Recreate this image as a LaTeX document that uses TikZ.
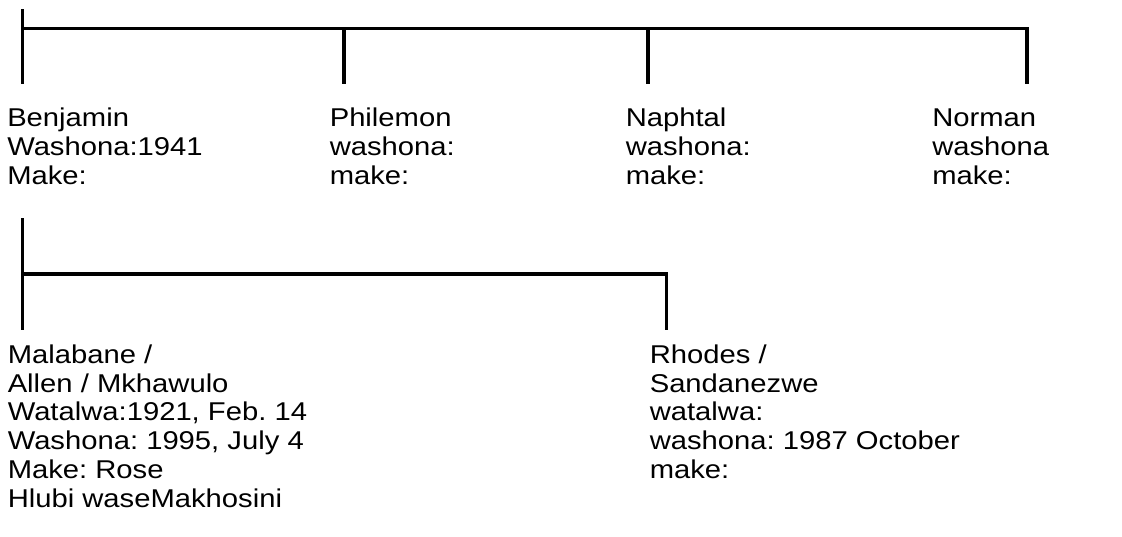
\documentclass[tikz,border=0pt]{standalone}
\usepackage{fontspec}
\setmainfont{Liberation Sans}[FakeStretch=1.135]
\frenchspacing
\usetikzlibrary{positioning}
\tikzset{
  person/.style={anchor=base west, inner sep=0pt, align=left,
    font=\fontsize{19.3pt}{21.6pt}\selectfont},
  branch/.style={draw=black, line width=2.4pt},
}

\begin{document}
\begin{tikzpicture}[x=0.75pt,y=-0.75pt]
\useasboundingbox (0,0) rectangle (1122,536);
% first row (anchored at the baseline of the last line)
\node[person] (benjamin) at (7,184.3) {Benjamin\\Washona:1941\\Make:};
\node[person] (philemon) at (329.5,184.3) {Philemon\\washona:\\make:};
\node[person] (naphtal) at (625.5,184.3) {Naphtal\\washona:\\make:};
\node[person] (norman) at (932,184.3) {Norman\\washona\\make:};
% second row
\node[person] (malabane) at (7.5,507.3) {Malabane /\\Allen / Mkhawulo\\Watalwa:1921, Feb. 14\\Washona: 1995, July 4\\Make: Rose\\Hlubi waseMakhosini};
\node[person] (rhodes) at (649.5,478.5) {Rhodes /\\Sandanezwe\\watalwa:\\washona: 1987 October\\make:};
% joints of the tree
\coordinate (top) at (22.7,9);
\coordinate (bar) at (22.7,28.3);
\coordinate (benjamin-in) at (22.7,84.3);
\coordinate (philemon-in) at (344,84.3);
\coordinate (naphtal-in) at (648,84.3);
\coordinate (norman-in) at (1027,84.3);
\coordinate (benjamin-out) at (22.7,218);
\coordinate (subbar) at (22.7,274);
\coordinate (malabane-in) at (22.7,330);
\coordinate (rhodes-in) at (666.7,330);
% lines
\draw[branch] (top) -- (benjamin-in);
\draw[branch] (bar) -- (bar -| norman-in) -- (norman-in);
\draw[branch] (bar -| philemon-in) -- (philemon-in);
\draw[branch] (bar -| naphtal-in) -- (naphtal-in);
\draw[branch] (benjamin-out) -- (malabane-in);
\draw[branch] (subbar) -- (subbar -| rhodes-in) -- (rhodes-in);
\end{tikzpicture}
\end{document}
